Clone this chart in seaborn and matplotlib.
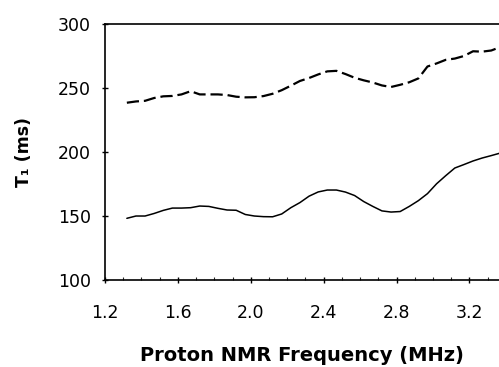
import numpy as np
import pandas as pd
import matplotlib
matplotlib.use("Agg")
import matplotlib.pyplot as plt
import seaborn as sns
from matplotlib.ticker import MultipleLocator, FormatStrFormatter

freq = [1.32, 1.37, 1.42, 1.47, 1.52, 1.57, 1.62, 1.67, 1.72, 1.77, 1.82,
        1.87, 1.92, 1.97, 2.02, 2.07, 2.12, 2.17, 2.22, 2.27, 2.32, 2.37,
        2.42, 2.47, 2.52, 2.57, 2.62, 2.67, 2.72, 2.77, 2.82, 2.87, 2.92,
        2.97, 3.02, 3.07, 3.12, 3.17, 3.22, 3.27, 3.32, 3.37, 3.42]

t1_solid = [148.2, 150, 150, 152, 154.4, 156.2, 156.2, 156.5, 157.8, 157.5, 156,
            154.7, 154.5, 151.2, 150, 149.5, 149.4, 151.6, 156.5, 160.5, 165.5, 168.8,
            170.3, 170.3, 168.7, 166, 161.3, 157.5, 154, 153.1, 153.5, 157.5, 162,
            167.5, 175.2, 181.5, 187.5, 190.2, 193, 195.3, 197.2, 199.2, 201]

t1_dashed = [238.5, 239.5, 240, 242.2, 243.5, 243.8, 245, 247.5, 245, 245, 245,
             244.5, 243.2, 242.7, 242.8, 243.7, 245.5, 248.3, 251.8, 255.5, 257.8, 260.6,
             263, 263.4, 260.9, 258, 256, 254.3, 252, 250.8, 252.5, 254.5, 257.5,
             266.8, 269.2, 272, 273, 275, 278.7, 278.4, 279.3, 282, 283.5]

sns.set_style("ticks")
plt.rcParams['font.family'] = ['DejaVu Sans']
plt.rcParams['text.color'] = 'black'
plt.rcParams['axes.labelcolor'] = 'black'

df = pd.DataFrame({'freq': freq, 'solid': t1_solid, 'dashed': t1_dashed})

fig = plt.figure(figsize=(4.99, 3.67), dpi=100)
ax = fig.add_axes([0.2104, 0.237, 0.7896, 0.6976])

sns.lineplot(data=df, x='freq', y='solid', ax=ax, color='black', linewidth=1.1)
sns.lineplot(data=df, x='freq', y='dashed', ax=ax, color='black', linewidth=1.6)
ax.lines[-1].set_dashes((5.5, 2.2))

ax.set_xlim(1.2, 3.3625)
ax.set_ylim(100, 300)
ax.xaxis.set_major_locator(MultipleLocator(0.4))
ax.xaxis.set_minor_locator(MultipleLocator(0.1))
ax.yaxis.set_major_locator(MultipleLocator(50))
ax.xaxis.set_major_formatter(FormatStrFormatter('%.1f'))

ax.tick_params(axis='both', which='major', direction='inout', length=4.4,
               width=1, labelsize=12.5, colors='black')
ax.tick_params(axis='y', pad=8)
ax.tick_params(axis='x', pad=15)
ax.tick_params(axis='x', which='minor', direction='in', length=2.5, width=0.8)

for s in ['left', 'bottom', 'top']:
    ax.spines[s].set_color('black')
    ax.spines[s].set_linewidth(1.2)
ax.spines['right'].set_visible(False)
ax.tick_params(top=False, right=False)

ax.set_xlabel('Proton NMR Frequency (MHz)', fontsize=14, fontweight='bold', labelpad=17)
ax.set_ylabel('T\u2081 (ms)', fontsize=12.5, fontweight='bold', labelpad=18)

fig.savefig('out.png', dpi=100)
